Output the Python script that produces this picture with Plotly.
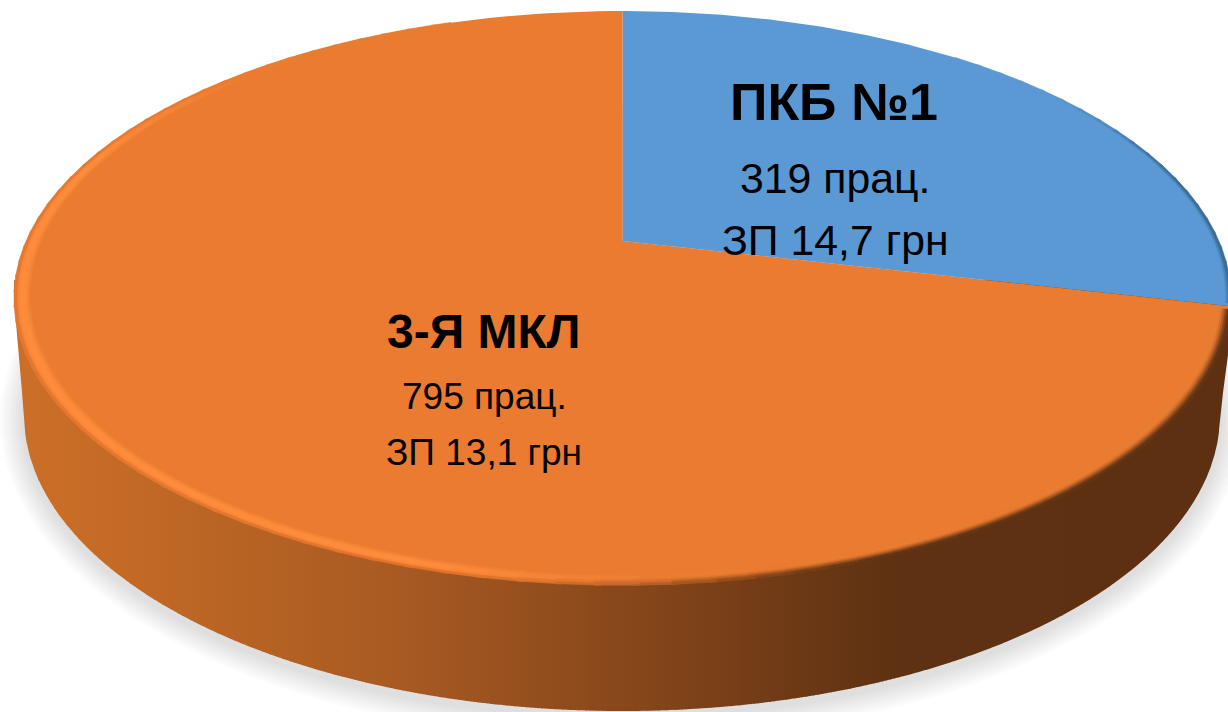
import numpy as np
import plotly.graph_objects as go

# --- data -----------------------------------------------------------------
labels = ["ПКБ №1", "3-Я МКЛ"]
workers = [319, 795]
pay = ["14,7", "13,1"]
slice_colors = ["#5B99D5", "#EA7B30"]

# --- drawing set-up (axes map 1:1 to the 1228x712 page) -------------------
W, H = 1228, 712
CX, CY = 622.5, 241.0
R, A, K = 596.0, 275.7, 0.1986
BCX, BCY, BA, BB = 622.0, 415.0, 598.0, 296.0


def project(theta_deg, r=1.0):
    t = np.radians(theta_deg)
    u, v = r * np.sin(t), r * np.cos(t)
    d = 1 + K * v
    return CX + R * u / d, CY - A * v / d


def hex2rgb(c):
    c = c.lstrip("#")
    return np.array([int(c[i:i + 2], 16) for i in (0, 2, 4)], float)


def mix(a, b, t):
    return a + (b - a) * np.clip(t, 0, 1)


def css(rgb, q=1):
    rgb = np.round(np.asarray(rgb) / q) * q
    return "rgb(%d,%d,%d)" % tuple(np.clip(rgb, 0, 255))


def smooth(a, b, x):
    t = np.clip((x - a) / (b - a), 0, 1)
    return t * t * (3 - 2 * t)


WALL_X = [0, 50, 400, 650, 900, 1228]
WALL_C = [hex2rgb(c) for c in ("#CC7029", "#CA6E27", "#A85A22", "#84451A", "#5D3112", "#5D3012")]


def wall_color(x):
    return np.array([np.interp(x, WALL_X, [c[i] for c in WALL_C]) for i in range(3)])


fig = go.Figure()


def add_poly(xs, ys, color, line=0):
    fig.add_trace(go.Scatter(
        x=xs, y=ys, mode="lines", fill="toself", fillcolor=color,
        line=dict(width=line, color=color), hoverinfo="skip", showlegend=False))


# soft shadow
phi = np.linspace(0, 2 * np.pi, 181)
for e in range(3, 27, 3):
    add_poly(BCX + (BA + e) * np.cos(phi), BCY + 5 + (BB + e) * np.sin(phi), "rgba(0,0,0,0.014)")


# side wall
def wall_bottom(x):
    dx = np.abs(x - BCX) / BA
    y = BCY + BB * np.sqrt(np.clip(1 - dx ** 2, 0, 1))
    if x < BCX - BA:
        y = np.interp(x, [14, BCX - BA], [300, BCY])
    if x > BCX + BA:
        y = np.interp(x, [BCX + BA, 1230], [BCY, 340])
    return y


edges = np.arange(14, 1231, 4.0)
groups = {}
for x0 in edges:
    x1 = min(x0 + 5, 1230)
    xm = np.linspace(x0, x1, 4)
    yb = [wall_bottom(x) for x in xm]
    col = css(wall_color(x0 + 2), 1)
    gx, gy = groups.setdefault(col, ([], []))
    gx += list(xm) + [x1, x0, x0, None]
    gy += yb + [280, 280, yb[0], None]
for col, (gx, gy) in groups.items():
    add_poly(gx, gy, col)

# top face, slice angles come from the values
total = sum(workers)
start = 0.0
spans = []
for val, col in zip(workers, slice_colors):
    end = start + 360.0 * val / total
    th = np.linspace(start, end, 181)
    ex, ey = project(th)
    add_poly([CX] + list(ex) + [CX], [CY] + list(ey) + [CY], col)
    spans.append((start, end))
    start = end

# rim bevel, kept inside each slice's own angular span
blue_base, orange_base = hex2rgb(slice_colors[0]), hex2rgb(slice_colors[1])
blue_dark, bright = hex2rgb("#38668F"), hex2rgb("#FF8C3C")
layers = np.linspace(0.0, 1.0, 8)
rim = {}
for j in range(len(layers) - 1):
    tmid = (layers[j] + layers[j + 1]) / 2
    r0, r1 = 0.975 + 0.025 * layers[j], 0.975 + 0.025 * layers[j + 1] + 0.001
    for sp_i, (s0, s1) in enumerate(spans):
        s_from = max(s0 + 0.6, 40)
        s_to = min(s1 - 0.6, 340) if sp_i == 1 else s1 - 0.6
        for a in np.arange(s_from, s_to, 3.0):
            b = min(a + 3.5, s_to)
            am = (a + b) / 2
            ex0, ey0 = project(np.array([a, b]), r0)
            ex1, ey1 = project(np.array([b, a]), r1)
            if sp_i == 0:
                d = smooth(50, 80, am)
                c = mix(blue_base, blue_dark, d * smooth(0.6, 1.0, tmid))
            else:
                h = smooth(170, 200, am) * (1 - smooth(285, 320, am))
                dk = 1 - smooth(160, 195, am)
                prof = np.sin(np.pi * min(tmid / 0.9, 1.0))
                wc = wall_color(ex0[0])
                c = mix(orange_base, bright, h * prof)
                c = mix(c, wc, dk * smooth(0.35, 1.0, tmid))
                c = mix(c, wc, h * smooth(0.85, 1.0, tmid) * 0.3)
            col = css(c, 4)
            gx, gy = rim.setdefault(col, ([], []))
            gx += list(ex0) + list(ex1) + [ex0[0], None]
            gy += list(ey0) + list(ey1) + [ey0[0], None]
for col, (gx, gy) in rim.items():
    add_poly(gx, gy, col, line=0.5)

# text
FONT = "Liberation Sans, Arial, sans-serif"
title_sizes = [52, 48]
sub_sizes = [42.8, 37]
title_pos = [(834, 102), (483, 331)]
work_pos = [(835, 178), (484, 396)]
pay_pos = [(835, 240), (484, 452)]
for i, lab in enumerate(labels):
    for txt, pos, size in (
        ("<b>%s</b>" % lab, title_pos[i], title_sizes[i]),
        ("%d прац." % workers[i], work_pos[i], sub_sizes[i]),
        ("ЗП %s грн" % pay[i], pay_pos[i], sub_sizes[i]),
    ):
        fig.add_annotation(x=pos[0], y=pos[1], text=txt, showarrow=False,
                           xanchor="center", yanchor="middle",
                           font=dict(family=FONT, size=size, color="#000000"))

fig.update_layout(
    width=W, height=H, margin=dict(l=0, r=0, t=0, b=0),
    paper_bgcolor="white", plot_bgcolor="white", showlegend=False,
    xaxis=dict(range=[0, W], visible=False, fixedrange=True),
    yaxis=dict(range=[H, 0], visible=False, fixedrange=True),
)
fig.write_html("out.html", config={"displayModeBar": False},
               post_script="document.body.style.margin='0';document.documentElement.style.overflow='hidden';")
